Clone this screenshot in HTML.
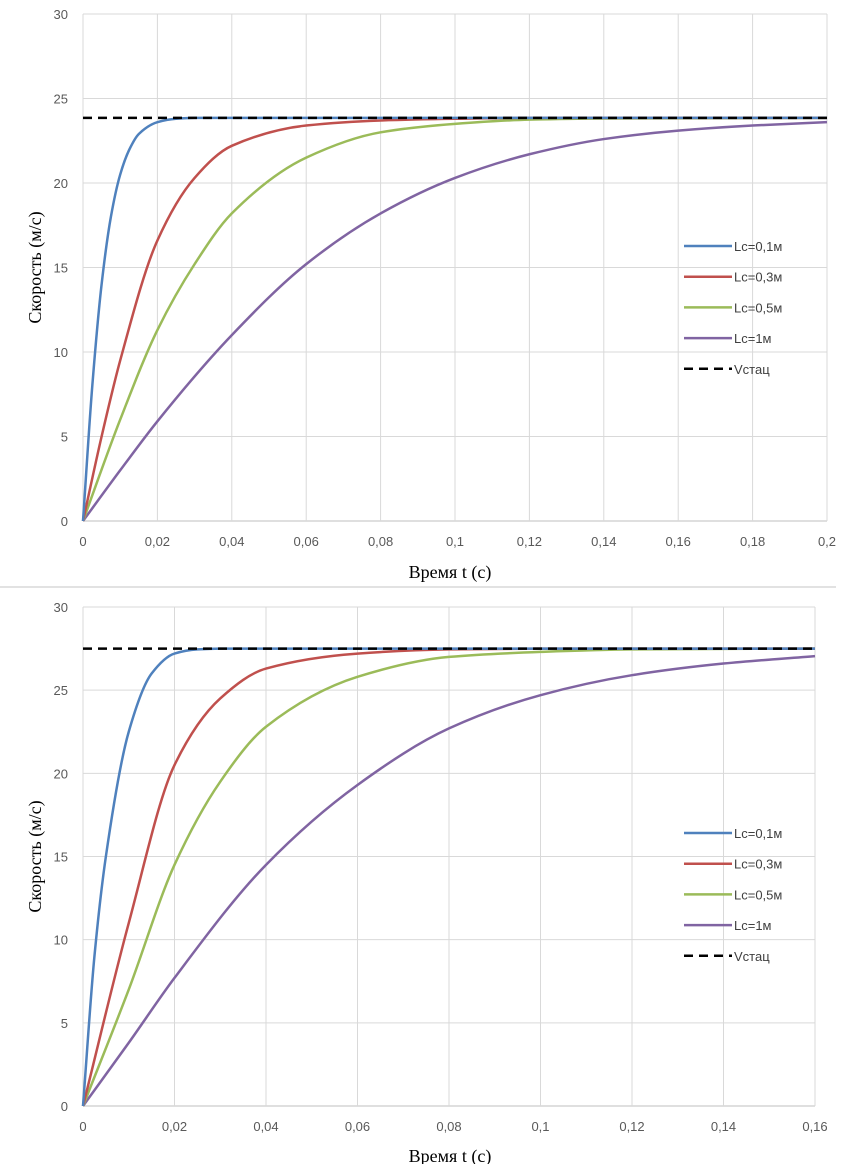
<!DOCTYPE html>
<html><head><meta charset="utf-8"><style>
body{margin:0;background:#fff;width:841px;height:1164px;overflow:hidden}
svg{display:block}
.tick{font-family:"Liberation Sans",sans-serif;font-size:13px;fill:#595959}
.title{font-family:"Liberation Serif",serif;font-size:18px;fill:#000}
.leg{font-family:"Liberation Sans",sans-serif;font-size:13px;fill:#404040}
</style></head><body>
<svg id="svg" width="841" height="1164"></svg>
<script>
const series1Names=["Lc=0,1м","Lc=0,3м","Lc=0,5м","Lc=1м"];
const chart1XTicks=["0","0,02","0,04","0,06","0,08","0,1","0,12","0,14","0,16","0,18","0,2"];
const chart1YTicks=["0","5","10","15","20","25","30"];
const chart1Vstat=23.85;
const c1t01=[0,0.0025,0.005,0.0075,0.01,0.0125,0.015,0.02,0.025,0.03,0.2];
const c1v01=[0,8,14,18,20.5,22,22.9,23.6,23.8,23.85,23.85];
const c1t03=[0,0.005,0.01,0.02,0.03,0.04,0.06,0.08,0.1,0.12,0.2];
const c1v03=[0,5,9.5,16.6,20.3,22.2,23.4,23.7,23.8,23.85,23.85];
const c1t05=[0,0.01,0.02,0.03,0.04,0.06,0.08,0.1,0.12,0.14,0.2];
const c1v05=[0,6,11.3,15.2,18.2,21.5,23,23.5,23.75,23.82,23.85];
const c1t1=[0,0.01,0.02,0.04,0.06,0.08,0.1,0.12,0.14,0.16,0.18,0.2];
const c1v1=[0,3,5.9,11,15.2,18.2,20.3,21.7,22.6,23.1,23.4,23.6];
const chart2XTicks=["0","0,02","0,04","0,06","0,08","0,1","0,12","0,14","0,16"];
const chart2YTicks=["0","5","10","15","20","25","30"];
const chart2Vstat=27.5;
const c2t01=[0,0.0025,0.005,0.01,0.015,0.02,0.025,0.03,0.16];
const c2v01=[0,9,15,22.5,26,27.2,27.45,27.5,27.5];
const c2t03=[0,0.01,0.02,0.03,0.04,0.06,0.08,0.1,0.16];
const c2v03=[0,11,20.5,24.5,26.3,27.2,27.45,27.5,27.5];
const c2t05=[0,0.01,0.02,0.03,0.04,0.06,0.08,0.1,0.12,0.16];
const c2v05=[0,7,14.5,19.5,22.8,25.8,27,27.3,27.45,27.5];
const c2t1=[0,0.01,0.02,0.04,0.06,0.08,0.1,0.12,0.14,0.16];
const c2v1=[0,3.8,7.7,14.5,19.3,22.7,24.7,25.9,26.6,27.05];

const NS="http://www.w3.org/2000/svg",svg=document.getElementById('svg');
const colors=["#4f81bd","#c0504d","#9bbb59","#8064a2"];
function el(tag,a,parent){const e=document.createElementNS(NS,tag);for(const k in a)e.setAttribute(k,a[k]);(parent||svg).appendChild(e);return e;}
// monotone cubic (Fritsch-Carlson)
function path(pts){
 const n=pts.length,d=[],m=new Array(n);
 for(let i=0;i<n-1;i++)d.push((pts[i+1][1]-pts[i][1])/(pts[i+1][0]-pts[i][0]));
 m[0]=d[0];m[n-1]=d[n-2];
 for(let i=1;i<n-1;i++){if(d[i-1]*d[i]<=0)m[i]=0;else{const h0=pts[i][0]-pts[i-1][0],h1=pts[i+1][0]-pts[i][0];const w1=2*h1+h0,w2=h1+2*h0;m[i]=(w1+w2)/(w1/d[i-1]+w2/d[i]);}}
 let s=`M${pts[0][0]},${pts[0][1]}`;
 for(let i=0;i<n-1;i++){const h=(pts[i+1][0]-pts[i][0])/3;s+=` C${pts[i][0]+h},${pts[i][1]+m[i]*h} ${pts[i+1][0]-h},${pts[i+1][1]-m[i+1]*h} ${pts[i+1][0]},${pts[i+1][1]}`;}
 return s;}
function chart(o){
 const g=el('g',{});
 const sx=t=>o.x0+(o.x1-o.x0)*t/o.tmax, sy=v=>o.y0-(o.y0-o.y1)*v/30;
 o.yt.forEach((l,i)=>{const v=+l,y=sy(v);const ln=el('line',{x1:o.x0,x2:o.x1,y1:y,y2:y,stroke:i==0?'#bfbfbf':'#d9d9d9','stroke-width':1},g);
  const t=el('text',{x:68,y:y+5,'text-anchor':'end',class:'tick'},g);t.textContent=l;});
 o.xt.forEach((l,i)=>{const v=parseFloat(l.replace(',','.')),x=sx(v);const ln=el('line',{x1:x,x2:x,y1:o.y1,y2:o.y0,stroke:'#d9d9d9','stroke-width':1},g);
  const t=el('text',{x:x,y:o.y0+25,'text-anchor':'middle',class:'tick'},g);t.textContent=l;});
 for(let k=3;k>=0;k--){const pts=o.ts[k].map((t,i)=>[sx(t),sy(o.vs[k][i])]);const p=el('path',{d:path(pts),fill:'none',stroke:colors[k],'stroke-width':2.5},g);}
 const vs=el('line',{x1:o.x0,x2:o.x1,y1:sy(o.vst),y2:sy(o.vst),stroke:'#000','stroke-width':2.5,'stroke-dasharray':'9,6'},g);
 const lg=el('g',{},g);
 const names=series1Names.concat(["Vстац"]);
 names.forEach((n,i)=>{const y=o.ly+i*30.7;const e=el('g',{},lg);
  if(i<4)el('line',{x1:684,x2:732,y1:y,y2:y,stroke:colors[i],'stroke-width':2.5},e);else el('line',{x1:684,x2:732,y1:y,y2:y,stroke:'#000','stroke-width':2.5,'stroke-dasharray':'9,6'},e);
  const t=el('text',{x:734,y:y+5,class:'leg'},e);t.textContent=n;});
 const yt=el('text',{x:0,y:0,class:'title','text-anchor':'middle',transform:`translate(41,${(o.y0+o.y1)/2}) rotate(-90)`},g);yt.textContent="Скорость (м/с)";
 const xt=el('text',{x:450,y:o.xty,class:'title','text-anchor':'middle'},g);xt.textContent="Время t (c)";
}
chart({name:'chart-top',x0:83,x1:827,y0:521,y1:14,tmax:0.2,xt:chart1XTicks,yt:chart1YTicks,vst:chart1Vstat,ts:[c1t01,c1t03,c1t05,c1t1],vs:[c1v01,c1v03,c1v05,c1v1],ly:246,xty:578});
const sep=el('line',{x1:0,x2:836,y1:587,y2:587,stroke:'#d9d9d9','stroke-width':1.5});


chart({name:'chart-bottom',x0:83,x1:815,y0:1106,y1:607,tmax:0.16,xt:chart2XTicks,yt:chart2YTicks,vst:chart2Vstat,ts:[c2t01,c2t03,c2t05,c2t1],vs:[c2v01,c2v03,c2v05,c2v1],ly:833,xty:1162});
</script>
</body></html>
